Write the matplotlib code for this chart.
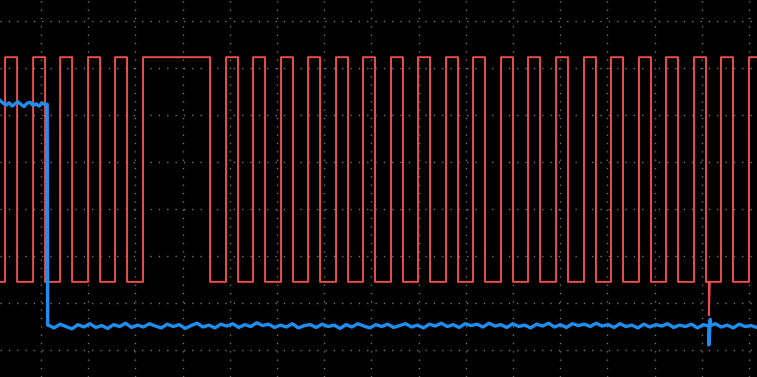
import numpy as np
import matplotlib
matplotlib.use("Agg")
import matplotlib.pyplot as plt

# ---- data (time in divisions, amplitude in divisions) ----
red_rise = [-0.763, -0.169, 0.403, 0.996, 1.568, 2.161, 3.919, 4.492, 5.085, 5.657,
            6.250, 6.822, 7.415, 7.987, 8.581, 9.153, 9.746, 10.318, 10.911, 11.504,
            12.076, 12.669, 13.242, 13.835, 14.407, 15.0]
red_fall = [-0.508, 0.085, 0.657, 1.250, 1.822, 3.581, 4.174, 4.746, 5.339, 5.911,
            6.504, 7.076, 7.669, 8.242, 8.835, 9.407, 10.0, 10.572, 11.165, 11.758,
            12.331, 12.924, 13.496, 14.089, 14.661]
red_high = 3.23
red_low = -1.55
red_spike_t = 14.15
red_spike_v = -2.26

blue_high_t = [-0.87, -0.80, -0.74, -0.68, -0.61, -0.55, -0.49, -0.42, -0.36, -0.30,
               -0.23, -0.17, -0.11, -0.04, 0.02, 0.08, 0.13]
blue_high_v = [2.31, 2.25, 2.21, 2.26, 2.19, 2.24, 2.28, 2.22, 2.18, 2.25, 2.27,
               2.20, 2.24, 2.19, 2.26, 2.22, 2.23]
blue_edge_t = 0.14
blue_low_v = [-2.47, -2.53, -2.45, -2.50, -2.55, -2.46, -2.51, -2.44, -2.52, -2.48,
              -2.54, -2.46, -2.50, -2.43, -2.52, -2.47, -2.51, -2.44, -2.49, -2.53,
              -2.45, -2.50, -2.46, -2.54, -2.48, -2.43, -2.51, -2.47, -2.53, -2.45,
              -2.49, -2.44, -2.52, -2.46, -2.50, -2.42, -2.48, -2.45, -2.52, -2.47,
              -2.51, -2.44, -2.53, -2.48, -2.46, -2.52, -2.45, -2.50, -2.47, -2.54,
              -2.46, -2.51, -2.44, -2.49, -2.53, -2.46, -2.50, -2.45, -2.52, -2.48,
              -2.44, -2.51, -2.47, -2.53, -2.45, -2.49, -2.43, -2.50, -2.46, -2.52,
              -2.44, -2.48, -2.45, -2.51, -2.43, -2.49, -2.46, -2.52, -2.44, -2.50,
              -2.47, -2.53, -2.45, -2.49, -2.43, -2.51, -2.46, -2.52, -2.44, -2.48,
              -2.45, -2.50, -2.43, -2.49, -2.46, -2.52, -2.44, -2.50, -2.47, -2.53,
              -2.45, -2.51, -2.46, -2.49, -2.44, -2.52, -2.47, -2.50, -2.45, -2.53,
              -2.46, -2.49, -2.44, -2.51, -2.47, -2.53, -2.45, -2.50, -2.48, -2.52]
blue_spike_t = 14.15
blue_spike_v = [-2.89, -2.35]

x_min, x_max = -0.87, 15.17
y_min, y_max = -3.574, 4.447

# ---- build red trace ----
rt, rv = [x_min], [red_low]
for i, r in enumerate(red_rise):
    rt += [r, r]
    rv += [red_low, red_high]
    if i < len(red_fall):
        f = red_fall[i]
        rt += [f, f]
        rv += [red_high, red_low]
        nxt = red_rise[i + 1] if i + 1 < len(red_rise) else x_max
        if f < red_spike_t < nxt:
            rt += [red_spike_t, red_spike_t, red_spike_t + 0.02]
            rv += [red_low, red_spike_v, red_low]
    else:
        rt += [x_max]
        rv += [red_high]

# ---- build blue trace ----
low_t = list(np.linspace(blue_edge_t + 0.01, x_max, len(blue_low_v)))
bt = list(blue_high_t) + [blue_edge_t]
bv = list(blue_high_v) + [blue_low_v[0]]
for t, v in zip(low_t, blue_low_v):
    if bt[-1] < blue_spike_t <= t:
        bt += [blue_spike_t, blue_spike_t, blue_spike_t + 0.03]
        bv += [-2.49, blue_spike_v[0], blue_spike_v[1]]
    bt.append(t)
    bv.append(v)

fig = plt.figure(figsize=(7.57, 3.77), dpi=100, facecolor="black")
ax = fig.add_axes([0, 0, 1, 1], facecolor="black")
ax.set_xlim(x_min, x_max)
ax.set_ylim(y_min, y_max)
ax.axis("off")

grid_kw = dict(color="#7c7c7c", linewidth=1.0, linestyle=(0, (0.9, 5.1)), zorder=1)
for gx in range(0, 16):
    ax.axvline(gx, **grid_kw)
for gy in range(-3, 5):
    ax.axhline(gy, **grid_kw)

ax.plot(rt, rv, color="#ec4d4d", linewidth=1.4, zorder=3, solid_joinstyle="round")
ax.plot(bt, bv, color="#1e8ff0", linewidth=2.4, zorder=4)

fig.savefig("out.png", dpi=100, facecolor="black")
